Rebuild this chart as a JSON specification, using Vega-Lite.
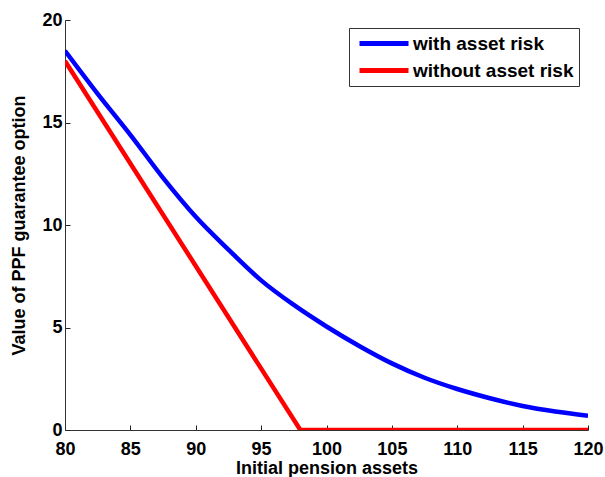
{
  "$schema": "https://vega.github.io/schema/vega-lite/v6.json",
  "autosize": "none",
  "width": 523,
  "height": 410,
  "padding": {"left": 65, "top": 20, "right": 17, "bottom": 47},
  "background": "white",
  "config": {
    "font": "Liberation Sans",
    "view": {"stroke": null}
  },
  "data": {
    "values": [
      {"x": 80, "y": 18.5, "s": "with asset risk"},
      {"x": 82.5, "y": 16.4, "s": "with asset risk"},
      {"x": 85, "y": 14.4, "s": "with asset risk"},
      {"x": 87.5, "y": 12.3, "s": "with asset risk"},
      {"x": 90, "y": 10.4, "s": "with asset risk"},
      {"x": 92.5, "y": 8.8, "s": "with asset risk"},
      {"x": 95, "y": 7.3, "s": "with asset risk"},
      {"x": 97.5, "y": 6.1, "s": "with asset risk"},
      {"x": 100, "y": 5.05, "s": "with asset risk"},
      {"x": 102.5, "y": 4.1, "s": "with asset risk"},
      {"x": 105, "y": 3.25, "s": "with asset risk"},
      {"x": 107.5, "y": 2.55, "s": "with asset risk"},
      {"x": 110, "y": 2.0, "s": "with asset risk"},
      {"x": 112.5, "y": 1.55, "s": "with asset risk"},
      {"x": 115, "y": 1.17, "s": "with asset risk"},
      {"x": 117.5, "y": 0.9, "s": "with asset risk"},
      {"x": 120, "y": 0.7, "s": "with asset risk"},
      {"x": 80, "y": 18.0, "s": "without asset risk"},
      {"x": 98, "y": 0, "s": "without asset risk"},
      {"x": 120, "y": 0, "s": "without asset risk"}
    ]
  },
  "encoding": {
    "x": {
      "field": "x", "type": "quantitative",
      "scale": {"domain": [80, 120], "nice": false, "zero": false},
      "axis": {
        "title": "Initial pension assets",
        "values": [80, 85, 90, 95, 100, 105, 110, 115, 120],
        "grid": false,
        "tickSize": -5,
        "labelPadding": 15,
        "labelFontSize": 18,
        "labelFontWeight": "bold",
        "labelColor": "black",
        "titleFontSize": 18,
        "titleFontWeight": "bold",
        "titleColor": "black",
        "titlePadding": 1,
        "domainColor": "#333",
        "tickColor": "#222",
        "labelFlush": false
      }
    },
    "y": {
      "field": "y", "type": "quantitative",
      "scale": {"domain": [0, 20], "nice": false},
      "axis": {
        "title": "Value of PPF guarantee option",
        "values": [0, 5, 10, 15, 20],
        "grid": false,
        "tickSize": -5,
        "labelPadding": 8,
        "labelFontSize": 18,
        "labelFontWeight": "bold",
        "labelColor": "black",
        "titleFontSize": 18,
        "titleFontWeight": "bold",
        "titleColor": "black",
        "titlePadding": 13,
        "domainColor": "#333",
        "tickColor": "#222",
        "labelFlush": false
      }
    },
    "color": {
      "field": "s", "type": "nominal",
      "scale": {"domain": ["with asset risk", "without asset risk"], "range": ["#0000ff", "#ff0000"]},
      "legend": {
        "title": null,
        "orient": "none",
        "legendX": 284,
        "legendY": 8,
        "strokeColor": "#333",
        "fillColor": "white",
        "padding": 5,
        "symbolType": "M-0.625,0H5.5",
        "symbolSize": 256,
        "symbolStrokeWidth": 5,
        "labelFontSize": 19,
        "labelFontWeight": "bold",
        "labelColor": "black",
        "labelLimit": 400,
        "rowPadding": 6,
        "labelOffset": 38
      }
    }
  },
  "layer": [
    {
      "transform": [{"filter": "datum.s === 'with asset risk'"}],
      "mark": {"type": "line", "strokeWidth": 4.5, "clip": true, "interpolate": "monotone"}
    },
    {
      "transform": [{"filter": "datum.s === 'without asset risk'"}],
      "mark": {"type": "line", "strokeWidth": 4.5, "clip": true}
    }
  ]
}
